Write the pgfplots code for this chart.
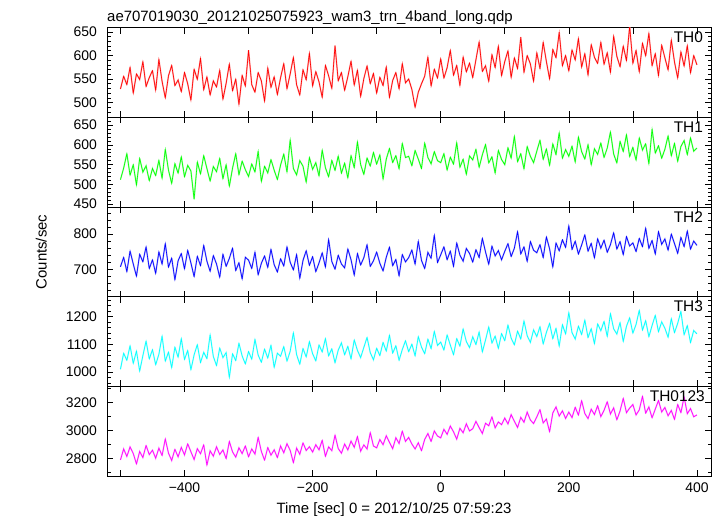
\documentclass[border=0pt]{standalone}
\usepackage{fontspec}
\setmainfont{Liberation Sans}
\usepackage{pgfplots}
\pgfplotsset{compat=1.18}
\usepackage{pgfplotstable}
\definecolor{cR}{RGB}{255,0,0}
\definecolor{cG}{RGB}{0,255,0}
\definecolor{cB}{RGB}{0,0,255}
\definecolor{cC}{RGB}{0,255,255}
\definecolor{cM}{RGB}{255,0,255}
\definecolor{lR}{RGB}{255,150,150}
\definecolor{lG}{RGB}{150,255,150}
\definecolor{lB}{RGB}{150,150,255}
\definecolor{lC}{RGB}{160,255,255}
\definecolor{lM}{RGB}{255,150,255}
\pgfplotstableread{
t a b c d e
-500 529 512 707 1010 2790
-495 556 541 734 1068 2868
-490 538 578 693 1042 2815
-485 575 523 752 1095 2882
-480 520 550 715 1031 2836
-475 561 498 680 1076 2761
-470 549 566 743 1003 2850
-465 587 531 721 1059 2807
-460 534 547 764 1112 2893
-455 553 509 702 1047 2828
-450 568 540 727 1081 2859
-445 526 522 688 1026 2802
-440 592 561 750 1064 2874
-435 545 515 714 1130 2821
-430 510 589 773 1039 2940
-425 557 536 706 1072 2838
-420 579 502 732 1015 2786
-415 536 553 670 1090 2866
-410 548 528 724 1053 2812
-405 523 570 745 1121 2879
-400 564 519 701 1045 2826
-395 540 548 754 1078 2905
-390 505 534 718 1008 2848
-385 571 462 679 1062 2793
-380 549 557 737 1099 2870
-375 594 526 710 1034 2834
-370 527 573 768 1071 2898
-365 555 540 723 1048 2752
-360 516 508 694 1135 2855
-355 546 545 739 1056 2817
-350 533 532 715 1023 2883
-345 569 566 677 1087 2829
-340 507 514 743 1052 2861
-335 541 550 708 1070 2799
-330 582 495 731 980 2922
-325 525 541 760 1066 2847
-320 550 578 696 1041 2810
-315 496 524 719 1104 2876
-310 558 559 672 1058 2835
-305 535 537 734 1029 2890
-300 611 520 726 1074 2812
-295 538 552 702 1046 2868
-290 522 531 749 1118 2832
-285 564 584 684 1061 2951
-280 546 507 717 1035 2850
-275 503 546 738 1083 2788
-270 574 529 705 1050 2879
-265 532 563 757 1097 2824
-260 555 536 713 1016 2862
-255 517 512 692 1068 2806
-250 553 549 730 1057 2889
-245 583 577 709 1092 2841
-240 529 531 764 1039 2905
-235 561 613 720 1075 2858
-230 596 540 698 1142 2770
-225 538 524 742 1063 2874
-220 516 560 674 1028 2830
-215 570 546 725 1085 2912
-210 548 505 753 1054 2857
-205 605 568 711 1110 2884
-200 535 538 736 1066 2846
-195 566 555 693 1040 2898
-190 544 521 718 1098 2862
-185 511 587 747 1072 2930
-180 579 542 706 1121 2815
-175 557 519 785 1058 2883
-170 530 561 722 1084 2856
-165 621 535 700 1033 2967
-160 546 572 740 1079 2871
-155 564 528 715 1105 2838
-150 526 554 704 1062 2903
-145 555 516 758 1093 2861
-140 588 573 727 1047 2924
-135 537 542 683 1116 2880
-130 569 608 745 1078 2957
-125 513 550 712 1052 2852
-120 551 525 733 1089 2897
-115 578 567 770 1125 2868
-110 540 546 708 1070 2985
-105 562 581 724 1044 2889
-100 520 551 749 1086 2876
-95 554 575 717 1059 2935
-90 536 513 695 1107 2898
-85 576 564 734 1075 2962
-80 511 591 763 1133 2915
-75 547 555 710 1068 2870
-70 564 573 728 1095 2948
-65 529 539 681 1042 2907
-60 583 604 742 1081 2995
-55 542 568 721 1113 2922
-50 550 571 733 1073 2950
-45 528 547 755 1101 2903
-40 490 586 714 1058 2868
-35 522 564 780 1128 2912
-30 540 540 725 1090 2855
-25 556 605 702 1066 2936
-20 597 568 748 1119 2978
-15 535 552 731 1084 2921
-10 571 583 797 1147 2996
-5 552 560 719 1096 2960
0 593 555 741 1108 2947
5 552 578 764 1079 3008
10 574 536 727 1134 2972
15 611 569 752 1097 3031
20 558 551 708 1062 2990
25 579 606 775 1121 2938
30 536 543 740 1093 3015
35 597 564 723 1156 2983
40 565 525 759 1110 3047
45 584 572 745 1088 2996
50 553 562 720 1127 3012
55 591 589 756 1099 3064
60 629 543 733 1145 3020
65 566 575 788 1072 2978
70 578 601 749 1116 3051
75 545 554 714 1163 3033
80 602 570 766 1104 3097
85 574 528 738 1130 3018
90 620 586 753 1085 3060
95 557 563 727 1139 3041
100 587 550 751 1113 3088
105 610 593 773 1170 3046
110 553 566 736 1122 3112
115 595 622 760 1098 3065
120 572 557 807 1148 3021
125 639 578 743 1119 3093
130 564 539 764 1185 3058
135 600 596 722 1131 3130
140 582 571 779 1107 3074
145 545 555 754 1152 3049
150 606 584 747 1128 3096
155 572 612 770 1164 3148
160 628 563 733 1101 3053
165 587 590 792 1143 3081
170 550 548 758 1176 2990
175 613 603 706 1120 3124
180 595 575 775 1158 3167
185 649 631 752 1093 3102
190 578 566 784 1171 3139
195 600 588 762 1137 3085
200 567 571 824 1215 3130
205 612 597 756 1142 3091
210 590 556 780 1119 3165
215 636 620 743 1166 3108
220 575 583 769 1135 3212
225 604 564 798 1188 3120
230 558 601 751 1124 3084
235 623 549 774 1157 3151
240 596 590 732 1102 3113
245 583 576 787 1174 3176
250 628 605 760 1149 3098
255 581 568 783 1183 3143
260 606 592 748 1128 3204
265 564 633 770 1211 3117
270 641 577 804 1156 3160
275 598 554 757 1137 3075
280 576 609 779 1179 3138
285 620 583 741 1110 3229
290 589 626 793 1165 3126
295 662 570 766 1196 3159
300 583 594 775 1140 3184
305 611 561 750 1172 3110
310 565 618 788 1223 3146
315 626 587 764 1151 3243
320 599 603 817 1186 3122
325 647 552 759 1127 3167
330 578 640 782 1168 3089
335 604 579 743 1205 3152
340 557 598 807 1145 3213
345 622 566 771 1181 3131
350 595 589 786 1158 3163
355 569 623 754 1125 3104
360 633 572 800 1193 3142
365 586 604 773 1142 3078
370 552 558 745 1176 3185
375 608 596 791 1219 3126
380 577 611 764 1134 3238
385 621 575 809 1168 3119
390 563 618 757 1106 3155
395 600 584 780 1150 3097
400 580 592 768 1138 3110
}\data
\tikzset{thlab/.style={anchor=north east, inner sep=0pt, font=\fontsize{15.5}{18}\selectfont}}
\pgfplotsset{
  panel/.style={
    width=604bp, height=89.7bp, scale only axis,
    anchor=north west,
    xmin=-521, xmax=422,
    xtick={-400,-200,0,200,400},
    xticklabels={},
    extra x ticks={-500,-300,-100,100,300},
    extra x tick labels={},
    tick align=inside,
    major tick length=6bp,
    minor tick length=3.5bp,
    every tick/.append style={black, line width=0.6bp},
    axis line style={black, line width=0.8bp},
    scaled ticks=false,
    /pgf/number format/assume math mode=true,
    /pgf/number format/1000 sep={},
    tick label style={font=\fontsize{14}{16}\selectfont},
    yticklabel style={inner sep=0pt, xshift=-10bp},
    xticklabel style={inner sep=0pt, yshift=-6bp},
    every axis plot/.append style={mark=none},
  },
  halo/.style={color=#1, line width=1.4bp, line join=miter, miter limit=3},
  main/.style={color=#1, line width=0.6bp},
}
\begin{document}
\begin{tikzpicture}[font=\fontsize{15}{18}\selectfont]
\useasboundingbox (0bp,0bp) rectangle (723bp,516bp);
\node[anchor=base west, inner sep=0pt] at (107bp,494.3bp) {ae707019030\_20121025075923\_wam3\_trn\_4band\_long.qdp};
\node[rotate=90, anchor=base, inner sep=0pt] at (46.5bp,264bp) {Counts/sec};
\node[anchor=base, inner sep=0pt] at (394bp,3bp) {Time [sec] 0 = 2012/10/25 07:59:23};

\begin{axis}[panel, at={(107bp,488.4bp)}, ymin=469, ymax=659,
  ytick={500,550,600,650}, minor ytick={470,480,...,650}]
\addplot[halo=lR] table[x=t,y=a]{\data};
\addplot[main=cR] table[x=t,y=a]{\data};
\node[thlab] at (rel axis cs:0.987,0.955) {TH0};
\end{axis}

\begin{axis}[panel, at={(107bp,398.7bp)}, ymin=442.5, ymax=670,
  ytick={450,500,550,600,650}, minor ytick={450,460,...,670}]
\addplot[halo=lG] table[x=t,y=b]{\data};
\addplot[main=cG] table[x=t,y=b]{\data};
\node[thlab] at (rel axis cs:0.987,0.955) {TH1};
\end{axis}

\begin{axis}[panel, at={(107bp,309bp)}, ymin=622, ymax=877,
  ytick={700,800}, minor ytick={640,660,...,860}]
\addplot[halo=lB] table[x=t,y=c]{\data};
\addplot[main=cB] table[x=t,y=c]{\data};
\node[thlab] at (rel axis cs:0.987,0.955) {TH2};
\end{axis}

\begin{axis}[panel, at={(107bp,219.3bp)}, ymin=948, ymax=1272,
  ytick={1000,1100,1200}, minor ytick={960,980,...,1260}]
\addplot[halo=lC] table[x=t,y=d]{\data};
\addplot[main=cC] table[x=t,y=d]{\data};
\node[thlab] at (rel axis cs:0.987,0.955) {TH3};
\end{axis}

\begin{axis}[panel, at={(107bp,129.6bp)}, ymin=2675, ymax=3313,
  ytick={2800,3000,3200}, minor ytick={2700,2800,...,3300},
  xticklabels={−400,−200,0,200,400}]
\addplot[halo=lM] table[x=t,y=e]{\data};
\addplot[main=cM] table[x=t,y=e]{\data};
\node[thlab] at (rel axis cs:0.99,0.955) {TH0123};
\end{axis}
\end{tikzpicture}
\end{document}
